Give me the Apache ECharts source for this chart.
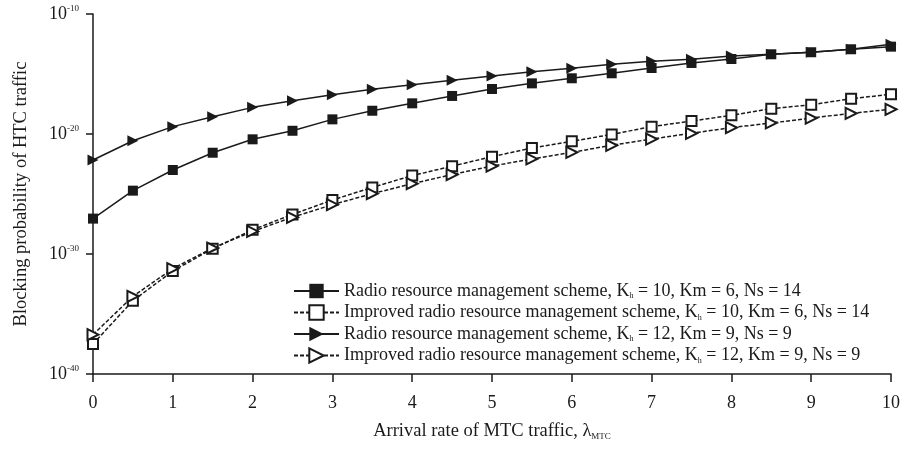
<!DOCTYPE html>
<html><head><meta charset="utf-8">
<script src="https://cdn.jsdelivr.net/npm/echarts@6/dist/echarts.min.js"></script>
<style>html,body{margin:0;padding:0;background:#fff}#c{width:901px;height:451px}</style>
</head><body><div id="c"></div>
<script>
const xValues = [0,0.5,1,1.5,2,2.5,3,3.5,4,4.5,5,5.5,6,6.5,7,7.5,8,8.5,9,9.5,10];
const yTickValues = [1e-40, 1e-30, 1e-20, 1e-10];
const seriesNames = [
  'Radio resource management scheme, Kh = 10, Km = 6, Ns = 14',
  'Improved radio resource management scheme, Kh = 10, Km = 6, Ns = 14',
  'Radio resource management scheme, Kh = 12, Km = 9, Ns = 9',
  'Improved radio resource management scheme, Kh = 12, Km = 9, Ns = 9'
];
const rrmA = [8.9e-28,1.9e-25,1.0e-23,2.75e-22,3.6e-21,1.86e-20,1.66e-19,8.7e-19,3.6e-18,1.48e-17,5.6e-17,1.66e-16,4.4e-16,1.15e-15,3.16e-15,8.3e-15,1.78e-14,4.4e-14,6.5e-14,1.15e-13,1.9e-13];
const improvedA = [3.16e-38,1.29e-34,3.8e-32,2.8e-30,1.05e-28,2.0e-27,3.16e-26,3.55e-25,3.4e-24,2.1e-23,1.29e-22,6.8e-22,2.45e-21,9.3e-21,4.1e-20,1.2e-19,3.6e-19,1.29e-18,2.75e-18,8.7e-18,2.05e-17];
const rrmB = [6.8e-23,2.75e-21,4.1e-20,2.75e-19,1.66e-18,6.0e-18,1.9e-17,5.25e-17,1.29e-16,2.95e-16,6.8e-16,1.55e-15,2.95e-15,6.5e-15,1.15e-14,1.66e-14,3.16e-14,4.4e-14,6.5e-14,1.15e-13,2.95e-13];
const improvedB = [1.9e-37,2.95e-34,6.0e-32,3.16e-30,7.6e-29,1.15e-27,1.29e-26,1.07e-25,7.2e-25,4.2e-24,2.14e-23,8.3e-23,2.95e-22,1.15e-21,3.8e-21,1.15e-20,3.4e-20,8.3e-20,2.14e-19,5.25e-19,1.15e-18];
const xAxisTitle = 'Arrival rate of MTC traffic, ';
const yAxisTitle = 'Blocking probability of HTC traffic';

const FONT = '"Liberation Serif", "DejaVu Serif", serif';
const INK = '#1a1a1a';
const pairs = ys => xValues.map((x, i) => [x, ys[i]]);

function mk(name, ys, symbol, rotate, dashed, size) {
  return {
    name, type: 'line', data: pairs(ys), symbol, symbolSize: size, symbolRotate: rotate,
    showSymbol: true, animation: false,
    lineStyle: { color: INK, width: 1.5, type: dashed ? [4, 2] : 'solid' },
    itemStyle: { color: INK, borderWidth: 1.5 }
  };
}

const chart = echarts.init(document.getElementById('c'), null, { renderer: 'canvas' });
chart.setOption({
  backgroundColor: '#fff',
  animation: false,
  textStyle: { fontFamily: FONT, color: INK },
  grid: { left: 93, right: 10, top: 14, bottom: 77, containLabel: false, outerBoundsMode: 'none' },
  legend: {
    orient: 'vertical', left: 288, top: 277,
    itemWidth: 45, itemHeight: 18, itemGap: 3.5,
    data: seriesNames,
    textStyle: {
      fontFamily: FONT, fontSize: 18, color: INK, lineHeight: 18,
      rich: { sub: { fontFamily: FONT, fontSize: 8, color: INK, verticalAlign: 'bottom', lineHeight: 14 } }
    },
    formatter: n => n.replace('Kh', 'K{sub|h}')
  },
  xAxis: {
    type: 'value', min: 0, max: 10, interval: 1,
    name: xAxisTitle + '{l|λ}{sub|MTC}', nameLocation: 'middle', nameGap: 48,
    nameMoveOverlap: false,
    nameTextStyle: {
      fontFamily: FONT, fontSize: 18.5, color: INK,
      rich: {
        l: { fontFamily: FONT, fontSize: 18.5, color: INK },
        sub: { fontFamily: FONT, fontSize: 9, color: INK, verticalAlign: 'bottom', lineHeight: 15 }
      }
    },
    axisLine: { onZero: false, lineStyle: { color: INK, width: 1.5 } },
    axisTick: { show: true, inside: false, length: 8, lineStyle: { color: INK, width: 1.5 } },
    axisLabel: { fontFamily: FONT, fontSize: 18, color: INK, margin: 20, showMinLabel: true, showMaxLabel: true },
    splitLine: { show: false }
  },
  yAxis: {
    type: 'log', logBase: 10, min: 1e-40, max: 1e-10, interval: 10,
    name: yAxisTitle, nameLocation: 'middle', nameGap: 62, nameRotate: 90,
    nameMoveOverlap: false,
    nameTextStyle: { fontFamily: FONT, fontSize: 18.5, color: INK },
    axisLine: { show: true, lineStyle: { color: INK, width: 1.5 } },
    axisTick: { show: true, inside: false, length: 7, customValues: yTickValues, lineStyle: { color: INK, width: 1.5 } },
    axisLabel: {
      margin: 14, showMinLabel: true, showMaxLabel: true, customValues: yTickValues,
      formatter: v => '{b|10}{s|' + Math.round(Math.log10(v)) + '}',
      rich: {
        b: { fontFamily: FONT, fontSize: 18, color: INK, lineHeight: 20 },
        s: { fontFamily: FONT, fontSize: 9, color: INK, verticalAlign: 'top', lineHeight: 10 }
      }
    },
    splitLine: { show: false }
  },
  series: [
    mk(seriesNames[0], rrmA, 'rect', 0, false, 10),
    mk(seriesNames[1], improvedA, 'emptyRect', 0, true, 10),
    mk(seriesNames[2], rrmB, 'triangle', -90, false, 11),
    mk(seriesNames[3], improvedB, 'emptyTriangle', -90, true, 11)
  ]
});
</script>
</body></html>
